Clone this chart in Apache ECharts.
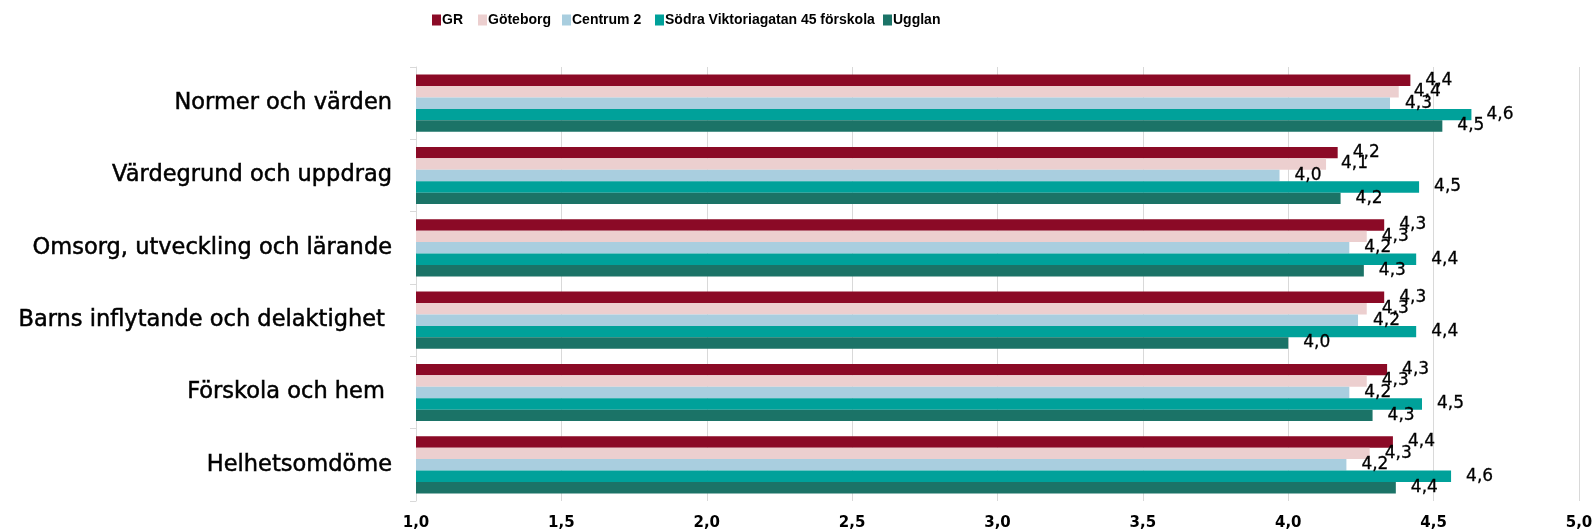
<!DOCTYPE html>
<html><head><meta charset="utf-8">
<script src="https://cdn.jsdelivr.net/npm/echarts@6/dist/echarts.min.js"></script>
<style>html,body{margin:0;padding:0;background:#fff}#c{width:1595px;height:532px}</style>
</head><body><div id="c"></div>
<script>
const categories = ["Normer och värden","Värdegrund och uppdrag","Omsorg, utveckling och lärande","Barns inflytande och delaktighet ","Förskola och hem ","Helhetsomdöme"];
const seriesNames = ["GR","Göteborg","Centrum 2","Södra Viktoriagatan 45 förskola","Ugglan"];
const colors = ["#8B0A26","#ECCFCF","#A9CEDF","#00A19A","#1B7367"];
const gr       = [4.42, 4.17, 4.33, 4.33, 4.34, 4.36];
const goteborg = [4.38, 4.13, 4.27, 4.27, 4.27, 4.28];
const centrum2 = [4.35, 3.97, 4.21, 4.24, 4.21, 4.20];
const sodra    = [4.63, 4.45, 4.44, 4.44, 4.46, 4.56];
const ugglan   = [4.53, 4.18, 4.26, 4.00, 4.29, 4.37];
const xTicks = [1.0,1.5,2.0,2.5,3.0,3.5,4.0,4.5,5.0];
const allData = [gr, goteborg, centrum2, sodra, ugglan];
const legendLeft = [432, 478, 562, 655, 883];
const fmt = v => v.toFixed(1).replace('.', ',');
const chart = echarts.init(document.getElementById('c'));
chart.setOption({
  animation:false,
  legend: seriesNames.map((n,i)=>({top:13,left:legendLeft[i],itemWidth:9,itemHeight:11,icon:'rect',padding:0,
    textStyle:{fontSize:14,fontWeight:'bold',color:'#000',fontFamily:'"Liberation Sans",Arial,sans-serif',padding:[0,0,0,-4]},
    data:[n]})),
  grid:{left:416,right:16,top:67,bottom:31,containLabel:false,outerBoundsMode:'none'},
  xAxis:{type:'value',min:1,max:5,interval:0.5,
    axisLine:{show:false},axisTick:{show:false},
    splitLine:{show:true,lineStyle:{color:'#d9d9d9',width:1}},
    axisLabel:{formatter:v=>fmt(v),fontSize:15,fontWeight:'bold',color:'#000',margin:15,fontFamily:'"DejaVu Sans",sans-serif'}},
  yAxis:{type:'category',data:categories,inverse:true,
    axisLine:{show:true,lineStyle:{color:'#d9d9d9'}},
    axisTick:{show:true,length:6,lineStyle:{color:'#d9d9d9'}},
    axisLabel:{fontSize:22.5,color:'#000',margin:24,fontFamily:'"DejaVu Sans",sans-serif',textBorderColor:'#000',textBorderWidth:0.5}},
  series: seriesNames.map((n,i)=>({
    name:n,type:'bar',data:allData[i],barGap:'0%',barCategoryGap:'21%',
    itemStyle:{color:colors[i]},
    label:{show:true,position:'right',distance:15,formatter:p=>fmt(p.value),fontSize:17,color:'#000',fontFamily:'"DejaVu Sans",sans-serif',textBorderColor:'#000',textBorderWidth:0.3}
  }))
});
</script></body></html>
